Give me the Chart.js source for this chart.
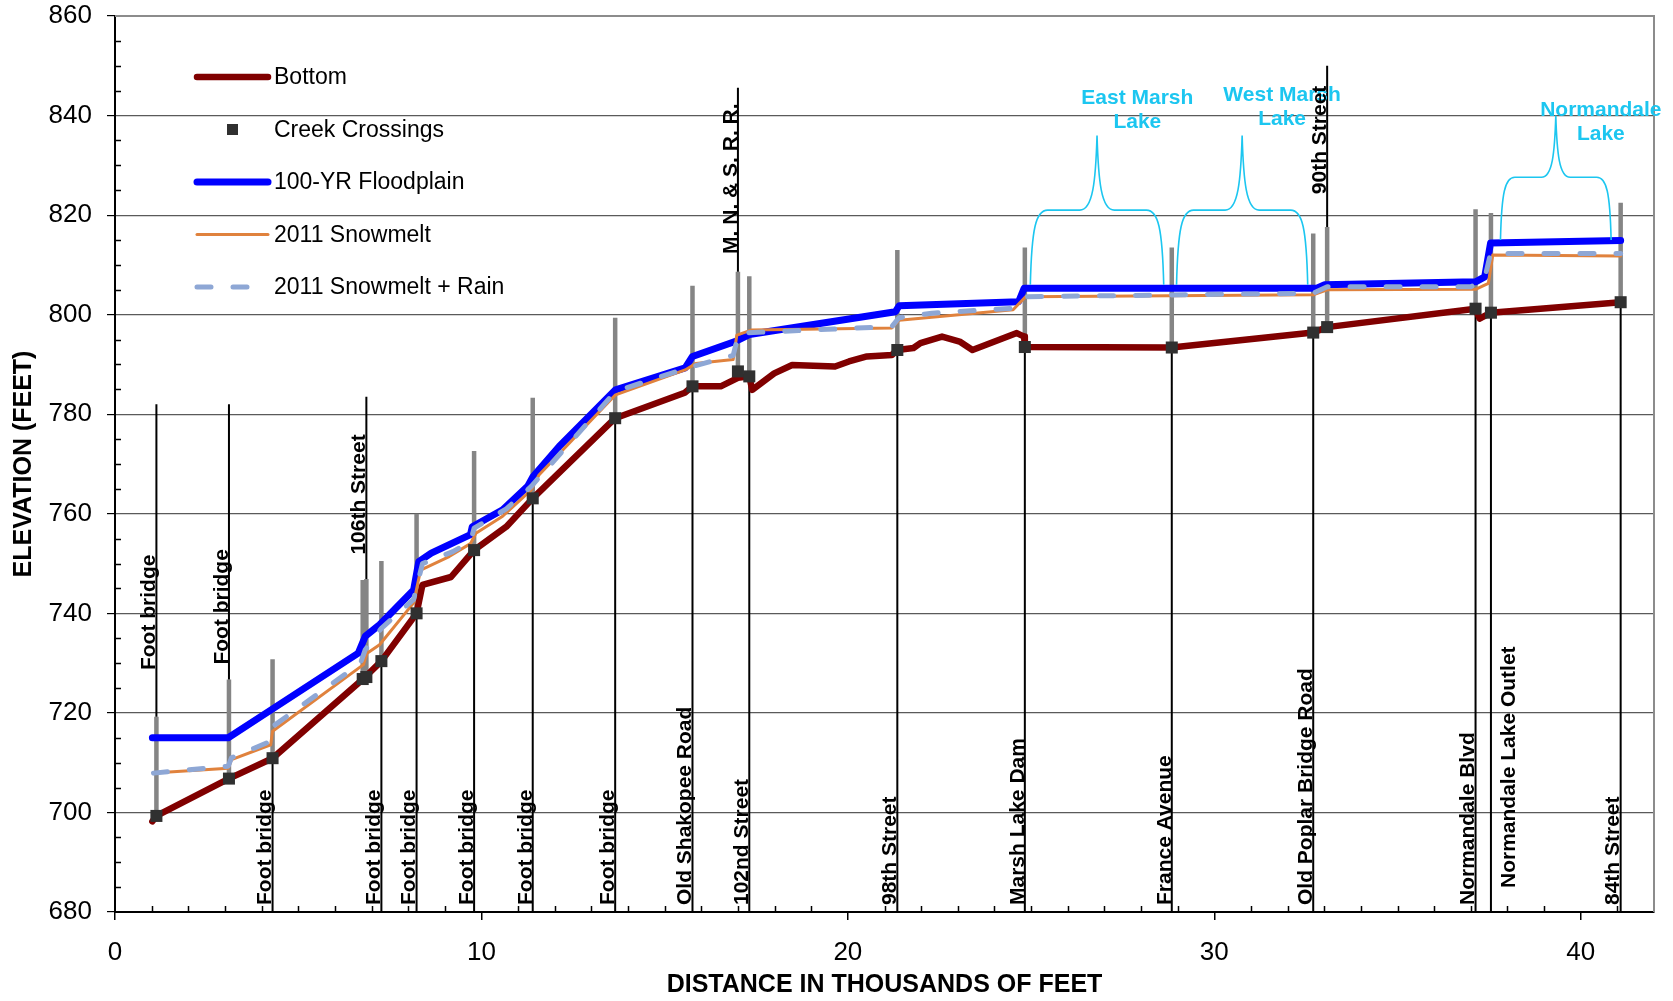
<!DOCTYPE html>
<html>
<head>
<meta charset="utf-8">
<title>Creek profile</title>
<script src="https://cdn.jsdelivr.net/npm/chart.js@4.4.1/dist/chart.umd.min.js"></script>
<style>
    html, body { margin: 0; padding: 0; background: #fff; }
    #wrap { width: 1673px; height: 1001px; }
</style>
</head>
<body>
<div id="wrap"><canvas id="profile" width="1673" height="1001"></canvas></div>
<script>
// distance is in thousands of feet, elevation in feet
const xTicks = [0, 10, 20, 30, 40];
const yTicks = [680, 700, 720, 740, 760, 780, 800, 820, 840, 860];

const bottomX = [1.02, 1.13, 3.11, 4.30, 6.80, 7.27, 8.23, 8.39, 9.17, 9.80, 10.68, 11.40, 13.65, 15.55, 15.76, 16.53,
    17.00, 17.31, 17.39, 17.99, 18.48, 19.65, 20.03, 20.52, 21.20, 21.35, 21.79, 21.98, 22.57, 23.05, 23.40, 24.61,
    24.81, 24.83, 28.84, 32.70, 33.08, 37.13, 37.24, 37.55, 41.09];
const bottomY = [698.2, 699.3, 706.8, 710.9, 727.0, 730.4, 740.0, 745.7, 747.3, 752.7, 757.4, 763.1, 779.2, 784.3, 785.6, 785.6,
    787.3, 787.6, 784.9, 788.2, 789.9, 789.6, 790.6, 791.6, 791.9, 792.9, 793.3, 794.3, 795.6, 794.6, 792.9, 796.3,
    795.6, 793.5, 793.4, 796.4, 797.5, 801.2, 799.2, 800.4, 802.5];

const floodX = [1.02, 3.09, 4.26, 6.64, 6.83, 7.22, 8.15, 8.29, 8.63, 9.70, 9.75, 10.58, 11.26, 11.41, 12.12, 13.66,
    15.56, 15.76, 16.92, 17.31, 21.30, 21.40, 24.66, 24.81, 32.80, 33.00, 37.13, 37.38, 37.54, 41.09];
const floodY = [715.0, 715.0, 720.6, 732.0, 735.4, 737.7, 744.7, 750.4, 752.1, 755.8, 757.4, 760.8, 765.5, 767.5, 773.5, 784.9,
    789.3, 791.6, 794.6, 796.0, 800.6, 801.8, 802.6, 805.3, 805.3, 806.0, 806.6, 807.6, 814.4, 814.9];

const snowX = [1.05, 3.09, 3.18, 4.25, 4.30, 6.78, 6.88, 7.22, 8.15, 8.34, 9.12, 9.70, 9.85, 10.58, 11.36, 11.57,
    13.66, 15.56, 15.85, 16.87, 16.97, 17.36, 21.20, 21.40, 24.51, 24.85, 32.70, 33.08, 37.13, 37.48, 37.60, 41.09];
const snowY = [707.9, 708.9, 710.6, 713.6, 716.3, 729.7, 732.0, 733.7, 742.1, 748.7, 751.4, 754.0, 756.1, 759.5, 764.8, 767.8,
    783.9, 788.9, 790.2, 791.0, 795.9, 796.9, 797.3, 798.9, 801.0, 803.6, 804.0, 805.0, 805.1, 806.3, 812.0, 811.8];

const rainX = [1.05, 3.09, 3.18, 4.25, 4.33, 6.70, 6.83, 7.27, 8.15, 8.39, 9.22, 9.70, 9.80, 10.68, 11.36, 13.66,
    15.76, 16.87, 17.02, 21.20, 21.40, 22.29, 24.51, 24.85, 32.70, 33.08, 37.00, 37.38, 37.54, 41.09];
const rainY = [707.9, 709.3, 711.0, 714.3, 717.4, 730.0, 732.7, 737.0, 742.8, 750.0, 752.4, 754.4, 757.1, 761.0, 765.5, 784.6,
    789.6, 791.8, 796.3, 797.6, 799.4, 800.3, 801.3, 803.6, 804.3, 805.6, 805.6, 807.3, 812.3, 812.3];

// creek crossings: channel bottom, top of structure, name
const crossX = [1.13, 3.11, 4.30, 6.76, 6.86, 7.27, 8.23, 9.80, 11.40, 13.65, 15.76, 17.00, 17.31, 21.35, 24.83,
    28.84, 32.70, 33.08, 37.13, 37.55, 41.09];
const crossY = [699.3, 706.8, 710.9, 726.8, 727.2, 730.4, 740.0, 752.7, 763.1, 779.2, 785.6, 788.6, 787.6, 792.9, 793.5,
    793.4, 796.4, 797.5, 801.2, 800.4, 802.5];
const deckTop = [719.2, 726.7, 730.8, 746.7, 746.9, 750.5, 760.0, 772.6, 783.3, 799.4, 805.8, 808.6, 807.7, 813.0, 813.5,
    813.5, 816.3, 817.6, 821.2, 820.4, 822.5];
const crossNames = ["Foot bridge", "Foot bridge", "Foot bridge", "", "106th Street", "Foot bridge", "Foot bridge",
    "Foot bridge", "Foot bridge", "Foot bridge", "Old Shakopee Road", "M. N. & S. R. R.", "102nd Street", "98th Street",
    "Marsh Lake Dam", "France Avenue", "Old Poplar Bridge Road", "90th Street", "Normandale Blvd",
    "Normandale Lake Outlet", "84th Street"];
// names written above the profile: leader runs up to leaderTop, text starts at textStart
const crossSide = ["top", "top", "bottom", "none", "top", "bottom", "bottom", "bottom", "bottom", "bottom", "bottom",
    "top", "bottom", "bottom", "bottom", "bottom", "bottom", "top", "bottom", "bottom", "bottom"];
const leaderTop = [782, 782, null, null, 783.5, null, null, null, null, null, null, 845.6, null, null, null, null, null,
    850, null, null, null];
const textStart = [728.6, 729.7, null, null, 751.8, null, null, null, null, null, null, 812.2, null, null, null, null,
    null, 824.2, null, null, null];

// lakes: brace from/to, brace base, shoulder and tip elevations
const lakeNames = [["East Marsh", "Lake"], ["West Marsh", "Lake"], ["Normandale", "Lake"]];
const lakeFrom = [24.98, 28.97, 37.81];
const lakeTo = [28.62, 32.55, 40.83];
const lakeBase = [806, 806, 815];
const lakeShoulder = [821, 821, 827.6];
const lakeTip = [836, 836, 840];
// where the lake names sit (distance, elevation of first line)
const lakeTextX = [27.9, 31.85, 40.55];
const lakeTextY = [843.5, 844.1, 841.1];

const FONT = '"Liberation Sans", Arial, sans-serif';
const CYAN = "#1cc6f0";

function points(xs, ys) {
    return xs.map((v, i) => ({x: v, y: ys[i]}));
}

const bridgePoints = [];
const leaderPoints = [];
crossX.forEach((cx, i) => {
    bridgePoints.push({x: cx, y: crossY[i]}, {x: cx, y: deckTop[i]}, {x: cx, y: null});
    if (crossSide[i] === "top") {
        leaderPoints.push({x: cx, y: deckTop[i]}, {x: cx, y: leaderTop[i]}, {x: cx, y: null});
    } else if (crossSide[i] === "bottom") {
        leaderPoints.push({x: cx, y: crossY[i]}, {x: cx, y: yTicks[0]}, {x: cx, y: null});
    }
});

function lineSet(label, data, color, width, order, extra) {
    return Object.assign({
        label, data, showLine: true, borderColor: color, backgroundColor: color, borderWidth: width,
        pointRadius: 0, borderCapStyle: "round", borderJoinStyle: "round", tension: 0, order, spanGaps: false
    }, extra || {});
}

const datasets = [
    lineSet("Bottom", points(bottomX, bottomY), "#800000", 6.5, 5),
    {
        label: "Creek Crossings", data: points(crossX, crossY), showLine: false, pointStyle: "rect",
        pointRadius: 8.5, backgroundColor: "#303030", borderWidth: 0, order: 0
    },
    lineSet("100-YR Floodplain", points(floodX, floodY), "#0000ff", 7, 4),
    lineSet("2011 Snowmelt", points(snowX, snowY), "#e0823d", 3, 3),
    lineSet("2011 Snowmelt + Rain", points(rainX, rainY), "#8ea7d5", 5, 2, {borderDash: [14, 22]}),
    lineSet("structure", bridgePoints, "#858585", 4.5, 7, {borderCapStyle: "butt"}),
    lineSet("leader", leaderPoints, "#000000", 2, 6, {borderCapStyle: "butt"})
];

const decor = {
    id: "decor",
    afterDatasetsDraw(chart) {
        const {ctx, chartArea: area, scales: {x, y}} = chart;
        ctx.save();

        // frame on top and right
        ctx.strokeStyle = "#8c8c8c";
        ctx.lineWidth = 2;
        ctx.beginPath();
        ctx.moveTo(area.left, area.top);
        ctx.lineTo(area.right, area.top);
        ctx.lineTo(area.right, area.bottom);
        ctx.stroke();

        // minor ticks, pointing inwards
        ctx.strokeStyle = "#000";
        ctx.lineWidth = 1.5;
        ctx.beginPath();
        for (let v = yTicks[0]; v <= yTicks[yTicks.length - 1]; v += 5) {
            if (v % 20 === 0) continue;
            const py = Math.round(y.getPixelForValue(v)) + 0.5;
            ctx.moveTo(area.left, py);
            ctx.lineTo(area.left + 6, py);
        }
        for (let v = 1; v < 42; v++) {
            if (v % 10 === 0) continue;
            const px = Math.round(x.getPixelForValue(v)) + 0.5;
            ctx.moveTo(px, area.bottom);
            ctx.lineTo(px, area.bottom - 6);
        }
        ctx.stroke();

        // lake braces
        ctx.strokeStyle = CYAN;
        ctx.lineWidth = 1.6;
        lakeNames.forEach((lines, i) => {
            const xl = x.getPixelForValue(lakeFrom[i]);
            const xr = x.getPixelForValue(lakeTo[i]);
            const xm = (xl + xr) / 2;
            const yb = y.getPixelForValue(lakeBase[i]);
            const ys = y.getPixelForValue(lakeShoulder[i]);
            const yt = y.getPixelForValue(lakeTip[i]);
            const w = xm - xl;
            ctx.beginPath();
            ctx.moveTo(xl, yb);
            ctx.bezierCurveTo(xl + w * 0.02, ys + (yb - ys) * 0.25, xl + w * 0.08, ys, xl + w * 0.26, ys);
            ctx.lineTo(xm - w * 0.26, ys);
            ctx.bezierCurveTo(xm - w * 0.06, ys, xm - w * 0.02, ys - (ys - yt) * 0.4, xm, yt);
            ctx.bezierCurveTo(xm + w * 0.02, ys - (ys - yt) * 0.4, xm + w * 0.06, ys, xm + w * 0.26, ys);
            ctx.lineTo(xr - w * 0.26, ys);
            ctx.bezierCurveTo(xr - w * 0.08, ys, xr - w * 0.02, ys + (yb - ys) * 0.25, xr, yb);
            ctx.stroke();

            ctx.fillStyle = CYAN;
            ctx.font = "bold 21px " + FONT;
            ctx.textAlign = "center";
            ctx.textBaseline = "middle";
            const tx = x.getPixelForValue(lakeTextX[i]);
            const ty = y.getPixelForValue(lakeTextY[i]);
            lines.forEach((t, k) => ctx.fillText(t, tx, ty + k * 24));
        });

        // crossing names, written upwards along their leaders
        ctx.fillStyle = "#000";
        ctx.font = "bold 21px " + FONT;
        ctx.textAlign = "left";
        ctx.textBaseline = "middle";
        let prevBottomPx = -1000;
        crossNames.forEach((name, i) => {
            if (!name) return;
            const px = x.getPixelForValue(crossX[i]);
            let start;
            let dx = -7;
            if (crossSide[i] === "top") {
                start = y.getPixelForValue(textStart[i]);
            } else {
                start = area.bottom - 7;
                if (px - prevBottomPx < 25) {
                    dx = 18;
                    start = area.bottom - 24;
                }
                prevBottomPx = px;
            }
            ctx.save();
            ctx.translate(px + dx, start);
            ctx.rotate(-Math.PI / 2);
            ctx.fillText(name, 0, 0);
            ctx.restore();
        });

        // legend
        ctx.font = "23px " + FONT;
        ctx.textAlign = "left";
        ctx.textBaseline = "middle";
        chart.data.datasets.slice(0, 5).forEach((ds, i) => {
            const ly = area.top + 61 + i * 52.5;
            const lx0 = area.left + 82;
            const lx1 = area.left + 153;
            if (ds.showLine) {
                ctx.strokeStyle = ds.borderColor;
                ctx.lineWidth = ds.borderWidth;
                ctx.lineCap = "round";
                ctx.setLineDash(ds.borderDash || []);
                ctx.beginPath();
                ctx.moveTo(lx0, ly);
                ctx.lineTo(lx1, ly);
                ctx.stroke();
                ctx.setLineDash([]);
            } else {
                ctx.fillStyle = ds.backgroundColor;
                ctx.fillRect((lx0 + lx1) / 2 - 5.5, ly - 5.5, 11, 11);
            }
            ctx.fillStyle = "#000";
            ctx.fillText(ds.label, area.left + 159, ly + 1);
        });

        ctx.restore();
    }
};

new Chart(document.getElementById("profile"), {
    type: "scatter",
    data: {datasets},
    options: {
        responsive: false,
        animation: false,
        devicePixelRatio: 1,
        events: [],
        layout: {padding: {top: 16, right: 19, left: 0, bottom: 0}},
        plugins: {legend: {display: false}, tooltip: {enabled: false}},
        scales: {
            x: {
                type: "linear",
                min: 0,
                max: 42,
                afterBuildTicks: s => { s.ticks = xTicks.map(v => ({value: v})); },
                afterFit: s => {
                    s.height = 89;
                    s.paddingLeft = 0;
                    s.paddingRight = 0;
                },
                ticks: {color: "#000", font: {family: FONT, size: 26}, padding: 17, maxRotation: 0, includeBounds: false},
                grid: {drawOnChartArea: false, drawTicks: true, tickLength: 8, tickColor: "#000", lineWidth: 1.5},
                border: {color: "#000", width: 2},
                title: {
                    display: true, text: "DISTANCE IN THOUSANDS OF FEET", color: "#000",
                    font: {family: FONT, size: 25, weight: "bold"}, padding: {top: 0, bottom: 1}
                }
            },
            y: {
                type: "linear",
                min: yTicks[0],
                max: yTicks[yTicks.length - 1],
                afterBuildTicks: s => { s.ticks = yTicks.map(v => ({value: v})); },
                afterFit: s => {
                    s.width = 115;
                    s.paddingTop = 0;
                    s.paddingBottom = 0;
                },
                ticks: {color: "#000", font: {family: FONT, size: 26}, padding: 15},
                grid: {color: "#5a5a5a", lineWidth: 1.2, drawTicks: true, tickLength: 8, tickColor: "#000"},
                border: {color: "#000", width: 2},
                title: {
                    display: true, text: "ELEVATION (FEET)", color: "#000",
                    font: {family: FONT, size: 25, weight: "bold"}, padding: {top: 9, bottom: 0}
                }
            }
        }
    },
    plugins: [decor]
});
</script>
</body>
</html>
